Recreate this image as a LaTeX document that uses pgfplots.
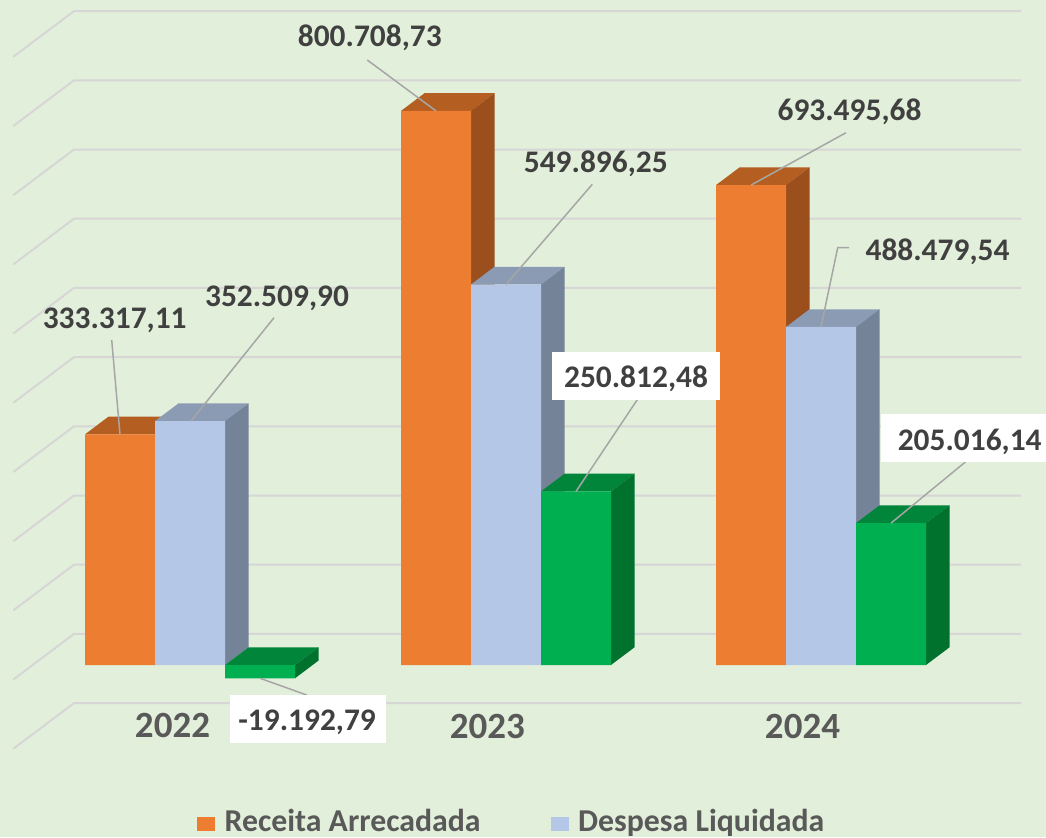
\documentclass[border=0pt]{standalone}
\usepackage{pgfplots}
\pgfplotsset{compat=1.18}
\usepackage{fontspec}
\setmainfont{Carlito}
\definecolor{bg}{HTML}{E2EFDA}
\definecolor{grid}{HTML}{D6D6D6}
\definecolor{lbl}{HTML}{404040}
\definecolor{cat}{HTML}{595959}
\definecolor{lead}{HTML}{A6A6A6}
\definecolor{oF}{HTML}{ED7D31}
\definecolor{oT}{HTML}{B55E21}
\definecolor{oS}{HTML}{9B4F1C}
\definecolor{bF}{HTML}{B4C7E7}
\definecolor{bT}{HTML}{8B9BB4}
\definecolor{bS}{HTML}{758399}
\definecolor{gF}{HTML}{00B050}
\definecolor{gT}{HTML}{00853A}
\definecolor{gS}{HTML}{00722E}
\tikzset{
  gl/.style={draw=grid, line width=1pt},
  ld/.style={draw=lead, line width=0.75pt},
  vl/.style={text=lbl, font=\fontsize{15.7pt}{18pt}\selectfont\bfseries, inner sep=0pt},
  cl/.style={text=cat, font=\fontsize{18.5pt}{22pt}\selectfont\bfseries, inner sep=0pt, anchor=base},
  lg/.style={text=cat, font=\fontsize{15.9pt}{19pt}\selectfont\bfseries, inner sep=0pt, anchor=base west},
}
\begin{document}
\begin{tikzpicture}
\useasboundingbox (0,0) rectangle (523pt,418.5pt);
\clip (0,0) rectangle (523pt,418.5pt);
\begin{axis}[
  scale only axis, width=523pt, height=418.5pt,
  xmin=0, xmax=1046, ymin=-248555, ymax=960985,
  hide axis, clip=false,
]
\fill[bg] (rel axis cs:0,0) rectangle (rel axis cs:1,1);
% gridlines (back wall + side wall)
\addplot[gl] coordinates {(13.3,-121099) (74,-55058) (1021,-55058)};
\addplot[gl] coordinates {(13.3,-21099) (74,44942) (1021,44942)};
\addplot[gl] coordinates {(13.3,78901) (74,144942) (1021,144942)};
\addplot[gl] coordinates {(13.3,178901) (74,244942) (1021,244942)};
\addplot[gl] coordinates {(13.3,278901) (74,344942) (1021,344942)};
\addplot[gl] coordinates {(13.3,378901) (74,444942) (1021,444942)};
\addplot[gl] coordinates {(13.3,478901) (74,544942) (1021,544942)};
\addplot[gl] coordinates {(13.3,578901) (74,644942) (1021,644942)};
\addplot[gl] coordinates {(13.3,678901) (74,744942) (1021,744942)};
\addplot[gl] coordinates {(13.3,778901) (74,844942) (1021,844942)};
\addplot[gl] coordinates {(13.3,878901) (74,944942) (1021,944942)};
% Receita Arrecadada
\addplot[fill=oT, draw=none] coordinates {(85,333317.11) (155,333317.11) (178.5,358895.11) (108.5,358895.11)};
\addplot[fill=oT, draw=none] coordinates {(401,800708.73) (471,800708.73) (494.5,826286.73) (424.5,826286.73)};
\addplot[fill=oT, draw=none] coordinates {(716,693495.68) (786,693495.68) (809.5,719073.68) (739.5,719073.68)};
\addplot[fill=oS, draw=none] coordinates {(155,333317.11) (178.5,358895.11) (178.5,25578) (155,0)};
\addplot[fill=oS, draw=none] coordinates {(471,800708.73) (494.5,826286.73) (494.5,25578) (471,0)};
\addplot[fill=oS, draw=none] coordinates {(786,693495.68) (809.5,719073.68) (809.5,25578) (786,0)};
\addplot[ybar, bar width=70, bar shift=0pt, fill=oF, draw=none] coordinates {(120,333317.11) (436,800708.73) (751,693495.68)};
% Despesa Liquidada
\addplot[fill=bT, draw=none] coordinates {(155,352509.90) (225,352509.90) (248.5,378087.90) (178.5,378087.90)};
\addplot[fill=bT, draw=none] coordinates {(471,549896.25) (541,549896.25) (564.5,575474.25) (494.5,575474.25)};
\addplot[fill=bT, draw=none] coordinates {(786,488479.54) (856,488479.54) (879.5,514057.54) (809.5,514057.54)};
\addplot[fill=bS, draw=none] coordinates {(225,352509.90) (248.5,378087.90) (248.5,25578) (225,0)};
\addplot[fill=bS, draw=none] coordinates {(541,549896.25) (564.5,575474.25) (564.5,25578) (541,0)};
\addplot[fill=bS, draw=none] coordinates {(856,488479.54) (879.5,514057.54) (879.5,25578) (856,0)};
\addplot[ybar, bar width=70, bar shift=0pt, fill=bF, draw=none] coordinates {(190,352509.90) (506,549896.25) (821,488479.54)};
% third series (green)
\addplot[fill=gT, draw=none] coordinates {(225,0) (295,0) (318.5,25578) (248.5,25578)};
\addplot[fill=gT, draw=none] coordinates {(541,250812.48) (611,250812.48) (634.5,276390.48) (564.5,276390.48)};
\addplot[fill=gT, draw=none] coordinates {(856,205016.14) (926,205016.14) (949.5,230594.14) (879.5,230594.14)};
\addplot[fill=gS, draw=none] coordinates {(295,0) (318.5,25578) (318.5,6385.21) (295,-19192.79)};
\addplot[fill=gS, draw=none] coordinates {(611,250812.48) (634.5,276390.48) (634.5,25578) (611,0)};
\addplot[fill=gS, draw=none] coordinates {(926,205016.14) (949.5,230594.14) (949.5,25578) (926,0)};
\addplot[ybar, bar width=70, bar shift=0pt, fill=gF, draw=none] coordinates {(260,-19192.79) (576,250812.48) (891,205016.14)};
% leader lines
\addplot[ld] coordinates {(111.7,469654) (120,333317.11)};
\addplot[ld] coordinates {(274,501886) (191,352509.90)};
\addplot[ld] coordinates {(367.3,874279) (436,800708.73)};
\addplot[ld] coordinates {(592.3,694655) (506,549896.25)};
\addplot[ld] coordinates {(637.3,383381) (576,250812.48)};
\addplot[ld] coordinates {(846,769222) (751,693495.68)};
\addplot[ld] coordinates {(849,603036) (837.7,603036) (821,488479.54)};
\addplot[ld] coordinates {(965.7,293787) (891,205016.14)};
\addplot[ld] coordinates {(306.7,-43353) (260,-19192.79)};
% label boxes
\fill[white] (axis cs:551.7,452753) rectangle (axis cs:720,383381);
\fill[white] (axis cs:881,362718) rectangle (axis cs:1046,293787);
\fill[white] (axis cs:230,-43353) rectangle (axis cs:385.7,-112283);
% value labels
\node[vl, anchor=base] at (axis cs:114.7,486562) {333.317,11};
\node[vl, anchor=base] at (axis cs:277,518787) {352.509,90};
\node[vl, anchor=base] at (axis cs:369.8,893500) {800.708,73};
\node[vl, anchor=base] at (axis cs:595.8,711996) {549.896,25};
\node[vl, anchor=base] at (axis cs:636,401302) {250.812,48};
\node[vl, anchor=base] at (axis cs:849.5,786563) {693.495,68};
\node[vl, anchor=base] at (axis cs:937.5,585261) {488.479,54};
\node[vl, anchor=base] at (axis cs:969.7,310694) {205.016,14};
\node[vl, anchor=base] at (axis cs:307.1,-93931) {-19.192,79};
% category labels
\node[cl] at (axis cs:172.5,-105000) {2022};
\node[cl] at (axis cs:487.3,-106503) {2023};
\node[cl] at (axis cs:802.5,-106503) {2024};
% legend
\fill[oF] (axis cs:197.3,-220087) rectangle (axis cs:215,-239452);
\fill[bF] (axis cs:551.3,-220087) rectangle (axis cs:569,-239452);
\node[lg] at (axis cs:224.2,-240320) {Receita Arrecadada};
\node[lg] at (axis cs:577.8,-240320) {Despesa Liquidada};
\end{axis}
\end{tikzpicture}
\end{document}
